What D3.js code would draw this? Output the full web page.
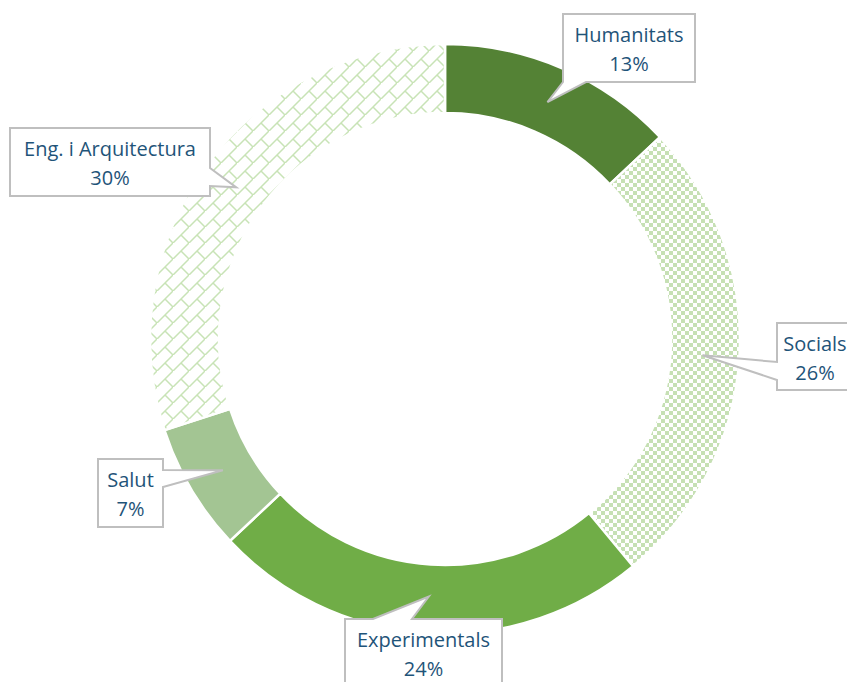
<!DOCTYPE html>
<html>
<head>
<meta charset="utf-8">
<script src="https://cdn.jsdelivr.net/npm/d3@7/dist/d3.min.js"></script>
<style>
  html, body { margin: 0; padding: 0; background: #ffffff; }
  svg { display: block; }
</style>
</head>
<body>
<svg id="chart" width="847" height="682"></svg>
<script>
// Share of each field of study (%), clockwise from the top
const categories = ["Humanitats", "Socials", "Experimentals", "Salut", "Eng. i Arquitectura"];
const values = [13, 26, 24, 7, 30];
const valueLabels = values.map(v => v + "%");

// Fill of each slice: solid colour or a pattern id
const fills = ["#548235", "url(#checker)", "#70ad47", "#a3c593", "url(#brick)"];

// Callout boxes: rectangle, the side the pointer leaves from and where it starts/ends on that side
const callouts = [
  { x: 563, y: 14,  w: 132, h: 68, side: "bottom", a: 563, b: 586 },
  { x: 777, y: 323, w: 76,  h: 67, side: "left",   a: 362, b: 380 },
  { x: 345, y: 619, w: 157, h: 68, side: "top",    a: 373, b: 412 },
  { x: 98,  y: 459, w: 65,  h: 68, side: "right",  a: 470, b: 487 },
  { x: 10,  y: 128, w: 200, h: 68, side: "right",  a: 168, b: 186 }
];

const svg = d3.select("#chart");
const cx = 445, cy = 339;
const outerR = 295, innerR = 226;

// Patterns
const defs = svg.append("defs");
const checker = defs.append("pattern")
  .attr("id", "checker").attr("patternUnits", "userSpaceOnUse")
  .attr("width", 8).attr("height", 8);
checker.append("rect").attr("width", 8).attr("height", 8).attr("fill", "#ffffff");
checker.append("rect").attr("x", 0).attr("y", 0).attr("width", 4).attr("height", 4).attr("fill", "#c6e0b4");
checker.append("rect").attr("x", 4).attr("y", 4).attr("width", 4).attr("height", 4).attr("fill", "#c6e0b4");

const brick = defs.append("pattern")
  .attr("id", "brick").attr("patternUnits", "userSpaceOnUse")
  .attr("width", 16).attr("height", 16);
brick.append("rect").attr("width", 16).attr("height", 16).attr("fill", "#ffffff");
brick.append("path")
  .attr("d", "M-2,18 L18,-2 M8,8 L16,16 M-8,8 L0,16 M8,-8 L16,0")
  .attr("stroke", "#c8e3b6").attr("stroke-width", 1.5).attr("fill", "none");

const pie = d3.pie().sort(null).value(d => d)
  .startAngle(0).endAngle(2 * Math.PI);
const arcs = pie(values);
const arc = d3.arc().innerRadius(innerR).outerRadius(outerR);
const tipArc = d3.arc().innerRadius(258).outerRadius(258);

const g = svg.append("g").attr("transform", `translate(${cx},${cy})`);
g.selectAll("path.slice")
  .data(arcs)
  .join("path")
  .attr("class", "slice")
  .attr("d", arc)
  .attr("fill", (d, i) => fills[i])
  .attr("stroke", "#ffffff")
  .attr("stroke-width", 2.5);

// Callout outline: rectangle with a wedge pointing at the slice
function calloutPath(c, tip) {
  const x0 = c.x, y0 = c.y, x1 = c.x + c.w, y1 = c.y + c.h;
  const [tx, ty] = tip;
  const pts = [];
  pts.push([x0, y0]);
  if (c.side === "top") { pts.push([c.a, y0], [tx, ty], [c.b, y0]); }
  pts.push([x1, y0]);
  if (c.side === "right") { pts.push([x1, c.a], [tx, ty], [x1, c.b]); }
  pts.push([x1, y1]);
  if (c.side === "bottom") { pts.push([c.b, y1], [tx, ty], [c.a, y1]); }
  pts.push([x0, y1]);
  if (c.side === "left") { pts.push([x0, c.b], [tx, ty], [x0, c.a]); }
  return "M" + pts.map(p => p.join(",")).join("L") + "Z";
}

const labels = svg.append("g");
arcs.forEach((d, i) => {
  const c = callouts[i];
  const [px, py] = tipArc.centroid(d);
  const tip = [cx + px, cy + py];
  labels.append("path")
    .attr("d", calloutPath(c, tip))
    .attr("fill", "#ffffff")
    .attr("stroke", "#bfbfbf")
    .attr("stroke-width", 2)
    .attr("stroke-linejoin", "miter");
  const t = labels.append("text")
    .attr("text-anchor", "middle")
    .attr("font-family", "'Open Sans', sans-serif")
    .attr("font-size", 20)
    .attr("fill", "#1f5479");
  t.append("tspan").attr("x", c.x + c.w / 2).attr("y", c.y + 28).text(categories[i]);
  t.append("tspan").attr("x", c.x + c.w / 2).attr("y", c.y + 57).text(valueLabels[i]);
});
</script>
</body>
</html>
